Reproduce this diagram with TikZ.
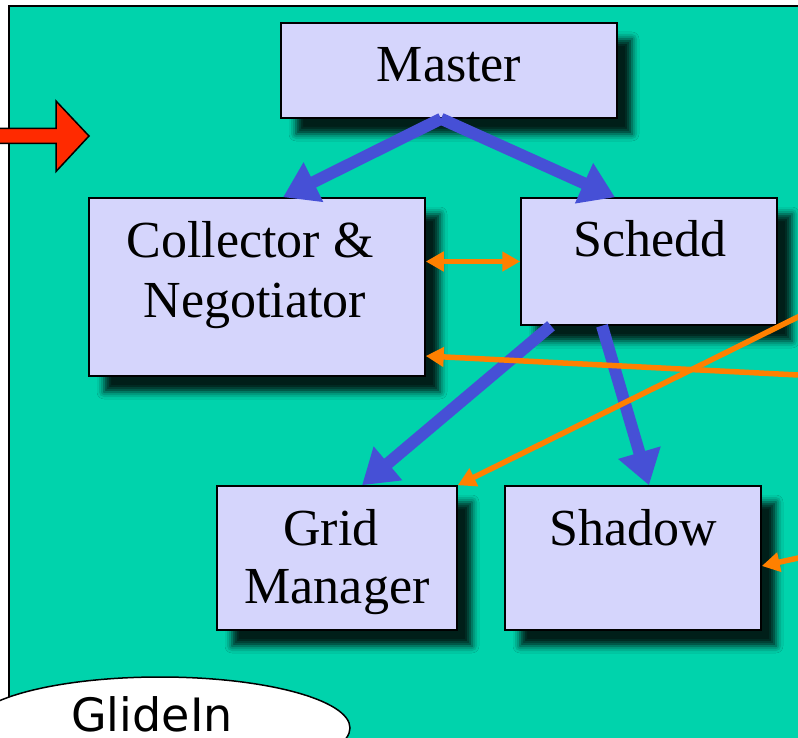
\documentclass[tikz,border=0pt]{standalone}
\usepackage{fontspec}
\setmainfont{Liberation Serif}
\newfontfamily\handfont{DejaVu Sans}
\usetikzlibrary{arrows.meta,shadows.blur,shapes.geometric}
\definecolor{poolteal}{HTML}{00D3AC}
\definecolor{boxfill}{HTML}{D5D5FC}
\definecolor{flowblue}{HTML}{4650D6}
\definecolor{msgorange}{HTML}{FF8000}
\definecolor{entryred}{HTML}{FF2A00}

\begin{document}
\begin{tikzpicture}[x=1pt,y=-1pt,
  daemon/.style={draw=black, line width=1.5pt, fill=boxfill, inner sep=0pt,
    blur shadow={shadow xshift=15pt, shadow yshift=-16pt,
                 shadow blur radius=7pt, shadow opacity=85}},
  daemonname/.style={font=\fontsize{52}{60}\selectfont, anchor=base, inner sep=0pt},
  flow/.style={draw=flowblue, line width=12pt, -{Triangle[length=34pt,width=42pt]}},
  msg/.style={draw=msgorange, line width=5.5pt, -{Triangle[length=18pt,width=19pt]}},
  msgboth/.style={draw=msgorange, line width=5.5pt,
    {Triangle[length=18pt,width=19pt]}-{Triangle[length=18pt,width=19pt]}},
]
\useasboundingbox (0,0) rectangle (798,738);
\clip (0,0) rectangle (798,738);

% page and pool area
\fill[white] (0,0) rectangle (798,738);
\draw[fill=poolteal, line width=2pt] (9,6) rectangle (830,770);

% daemons
\node[daemon, minimum width=336pt, minimum height=95pt]  (master)    at (449,70.5) {};
\node[daemon, minimum width=336pt, minimum height=178pt] (collector) at (257,287) {};
\node[daemon, minimum width=256pt, minimum height=127pt] (schedd)    at (649,261.5) {};
\node[daemon, minimum width=240pt, minimum height=144pt] (grid)      at (337,558) {};
\node[daemon, minimum width=256pt, minimum height=144pt] (shadow)    at (633,558) {};

\node[daemonname] (mastertxt) at (449,82)  {Master};
\node[daemonname] (colltxtA)  at (250,258) {Collector \&};
\node[daemonname] (colltxtB)  at (255,317) {Negotiator};
\node[daemonname] (schedtxt)  at (650,257) {Schedd};
\node[daemonname] (gridtxtA)  at (331,545) {Grid};
\node[daemonname] (gridtxtB)  at (337,603) {Manager};
\node[daemonname] (shadtxt)   at (633,545) {Shadow};

% process spawning
\draw[flow] ([xshift=-8pt]master.south) -- ([xshift=26pt]collector.north);
\draw[flow] ([xshift=-8pt]master.south) -- ([xshift=-34pt]schedd.north);
\draw[flow] ([xshift=-98pt]schedd.south) -- ([xshift=25pt]grid.north);
\draw[flow] ([xshift=-47pt]schedd.south) -- ([xshift=16pt]shadow.north);

% messages
\coordinate (feedA) at (806,375.4);
\coordinate (feedB) at (806,313);
\coordinate (feedC) at (806,556.3);
\draw[msgboth] (collector.east |- schedd.west) -- (schedd.west);
\draw[msg] (feedA) -- ([yshift=-69pt]collector.east);
\draw[msg] (feedB) -- (grid.north east);
\draw[msg] (feedC) -- ([yshift=-8pt]shadow.east);

% incoming arrow
\draw[fill=entryred, line width=1.5pt, line join=miter]
  (-5,128.5) -- (56,128.5) -- (56,101) -- (89,136) -- (56,171.5)
  -- (56,143.5) -- (-5,143.5) -- cycle;

% glide-in bubble
\node[draw=black, fill=white, line width=1.5pt, ellipse, inner sep=0pt,
      minimum width=380pt, minimum height=102pt] (glidein) at (160,728) {};
\node[font=\handfont\fontsize{46}{50}\selectfont, anchor=base, inner sep=0pt,
      text depth=0pt] (glidetxt) at (152,731) {GlideIn};
\end{tikzpicture}
\end{document}
